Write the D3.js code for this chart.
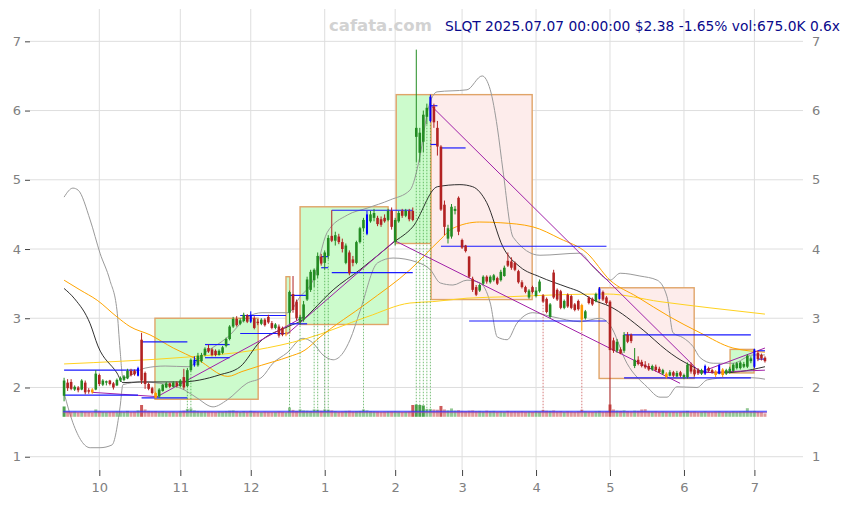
<!DOCTYPE html>
<html><head><meta charset="utf-8">
<script src="https://cdn.jsdelivr.net/npm/d3@7/dist/d3.min.js"></script>
<style>body{margin:0;background:#fff}svg{display:block}text{font-family:"DejaVu Sans",sans-serif}</style>
</head><body><svg id="c" width="850" height="505"></svg>
<script>
// ---------- DATA ----------
const tradingDays = {
  "2024-09":[17,18,19,20,23,24,25,26,27,30],
  "2024-10":[1,2,3,4,7,8,9,10,11,14,15,16,17,18,21,22,23,24,25,28,29,30,31],
  "2024-11":[1,4,5,6,7,8,11,12,13,14,15,18,19,20,21,22,25,26,27,29],
  "2024-12":[2,3,4,5,6,9,10,11,12,13,16,17,18,19,20,23,24,26,27,30,31],
  "2025-01":[2,3,6,7,8,10,13,14,15,16,17,21,22,23,24,27,28,29,30,31],
  "2025-02":[3,4,5,6,7,10,11,12,13,14,18,19,20,21,24,25,26,27,28],
  "2025-03":[3,4,5,6,7,10,11,12,13,14,17,18,19,20,21,24,25,26,27,28,31],
  "2025-04":[1,2,3,4,7,8,9,10,11,14,15,16,17,21,22,23,24,25,28,29,30],
  "2025-05":[1,2,5,6,7,8,9,12,13,14,15,16,19,20,21,22,23,27,28,29,30],
  "2025-06":[2,3,4,5,6,9,10,11,12,13,16,17,18,20,23,24,25,26,27,30],
  "2025-07":[1,2,3,7]
};
const monthLabels = ["10","11","12","1","2","3","4","5","6","7"];
const yTicks = [1,2,3,4,5,6,7];

const open = [1.88,2.07,2.08,1.97,2.00,1.97,2.07,1.96,1.97,1.97,
2.18,2.04,2.07,2.10,2.06,2.03,2.10,2.11,2.13,2.24,
2.24,2.17,2.69,2.21,2.05,1.99,1.92,1.87,1.95,2.00,
2.06,2.01,2.07,2.02,2.15,2.02,2.25,2.32,2.32,2.38,
2.47,2.57,2.55,2.53,2.47,2.50,2.60,2.70,2.88,2.99,
2.92,2.96,3.04,2.95,3.00,2.95,2.92,2.98,3.02,2.93,
2.86,2.88,2.86,2.77,3.08,3.35,3.24,2.95,2.98,3.27,
3.41,3.55,3.62,3.89,3.80,3.90,4.19,4.12,4.18,4.10,
3.80,3.95,3.85,3.80,4.10,4.30,4.22,4.40,4.45,4.45,
4.43,4.45,4.42,4.55,4.10,4.40,4.55,4.48,4.55,4.55,
5.62,5.39,5.55,5.91,5.85,6.06,5.75,5.48,4.64,4.15,
4.18,4.55,4.74,4.13,4.05,3.89,3.57,3.45,3.40,3.50,
3.60,3.52,3.55,3.58,3.55,3.61,3.83,3.82,3.80,3.68,
3.52,3.45,3.30,3.45,3.32,3.39,3.33,3.28,3.02,3.66,
3.41,3.39,3.15,3.34,3.32,3.20,3.25,3.19,3.00,3.30,
3.28,3.25,3.28,3.38,3.30,3.24,2.68,2.53,2.55,2.53,
2.76,2.76,2.31,2.40,2.37,2.33,2.31,2.26,2.30,2.27,
2.20,2.20,2.17,2.22,2.16,2.22,2.15,2.15,2.33,2.26,
2.25,2.20,2.20,2.28,2.25,2.23,2.20,2.26,2.20,2.22,
2.24,2.28,2.28,2.30,2.30,2.38,2.30,2.50,2.47,2.43];
const high = [2.14,2.12,2.12,2.03,2.02,2.12,2.10,1.99,1.99,2.25,
2.20,2.12,2.10,2.11,2.08,2.13,2.16,2.18,2.27,2.27,
2.26,2.30,2.79,2.23,2.07,2.01,1.94,1.99,2.05,2.08,
2.07,2.09,2.09,2.12,2.27,2.28,2.42,2.45,2.50,2.50,
2.58,2.62,2.57,2.55,2.55,2.60,2.72,2.90,3.02,3.03,
3.00,3.08,3.06,3.10,3.03,2.99,3.00,3.00,3.05,2.96,
2.93,2.91,2.88,2.80,3.40,3.61,3.27,3.05,3.25,3.60,
3.70,3.72,3.95,3.93,3.98,4.20,4.56,4.25,4.22,4.15,
4.08,3.98,3.90,4.12,4.32,4.45,4.55,4.55,4.58,4.48,
4.47,4.50,4.58,4.60,4.45,4.55,4.58,4.58,4.58,4.60,
6.88,5.75,6.00,6.10,6.23,6.10,5.85,5.50,4.70,4.35,
4.65,4.62,4.76,4.15,4.06,3.90,3.60,3.48,3.50,3.62,
3.62,3.62,3.64,3.60,3.70,3.76,3.95,3.88,3.82,3.70,
3.55,3.47,3.42,3.47,3.45,3.56,3.35,3.30,3.22,3.70,
3.43,3.41,3.27,3.36,3.34,3.22,3.27,3.21,3.12,3.32,
3.30,3.37,3.45,3.40,3.32,3.26,2.72,2.70,2.58,2.80,
2.80,2.78,2.57,2.45,2.40,2.38,2.35,2.33,2.33,2.30,
2.27,2.22,2.25,2.24,2.24,2.24,2.20,2.36,2.36,2.28,
2.28,2.27,2.33,2.30,2.27,2.25,2.34,2.28,2.27,2.30,
2.35,2.37,2.38,2.37,2.48,2.45,2.56,2.53,2.49,2.45];
const low = [1.80,1.95,1.96,1.95,1.93,1.96,1.90,1.91,1.91,1.96,
2.02,2.02,2.03,2.03,1.97,2.02,2.08,2.09,2.12,2.16,
2.17,2.16,2.05,1.98,1.96,1.90,1.84,1.85,1.94,1.99,
1.99,2.00,2.00,2.00,1.97,2.00,2.22,2.30,2.30,2.36,
2.45,2.50,2.45,2.45,2.46,2.48,2.58,2.68,2.86,2.88,
2.90,2.94,2.93,2.93,2.84,2.90,2.90,2.88,2.92,2.84,
2.84,2.72,2.74,2.74,2.92,3.08,2.97,2.90,2.95,3.25,
3.38,3.45,3.58,3.76,3.70,3.85,4.10,4.05,4.07,3.95,
3.78,3.62,3.75,3.78,4.08,4.25,4.20,4.38,4.40,4.33,
4.32,4.38,4.40,4.28,4.05,4.38,4.45,4.46,4.40,4.40,
5.25,5.25,5.40,5.80,5.83,5.75,5.35,4.55,4.20,4.08,
4.15,4.50,4.20,4.00,3.95,3.58,3.38,3.32,3.38,3.48,
3.50,3.50,3.53,3.48,3.53,3.60,3.74,3.70,3.68,3.50,
3.43,3.36,3.28,3.36,3.30,3.37,3.22,3.07,3.00,3.28,
3.25,3.13,3.13,3.15,3.13,3.10,3.11,2.82,2.98,3.20,
3.18,3.23,3.27,3.25,3.20,1.63,2.50,2.50,2.48,2.50,
2.64,2.64,2.28,2.32,2.29,2.27,2.24,2.24,2.23,2.21,
2.18,2.13,2.16,2.15,2.15,2.15,2.12,2.13,2.20,2.16,
2.18,2.18,2.18,2.22,2.20,2.15,2.19,2.15,2.18,2.20,
2.22,2.26,2.26,2.28,2.28,2.35,2.28,2.38,2.39,2.36];
const close = [2.10,1.99,1.98,2.01,1.96,2.10,1.93,1.94,1.93,2.20,
2.05,2.10,2.09,2.05,2.00,2.11,2.14,2.16,2.24,2.18,
2.19,2.28,2.10,2.05,1.98,1.92,1.85,1.97,2.04,2.06,
2.01,2.07,2.02,2.10,2.00,2.25,2.40,2.40,2.46,2.47,
2.56,2.52,2.47,2.47,2.53,2.58,2.70,2.88,2.99,2.90,
2.97,3.05,2.95,3.05,2.86,2.93,2.98,2.90,2.94,2.86,
2.91,2.75,2.76,2.78,3.38,3.12,3.00,3.02,3.20,3.56,
3.67,3.70,3.90,3.79,3.95,4.16,4.12,4.20,4.10,4.00,
4.05,3.65,3.80,4.10,4.30,4.42,4.50,4.50,4.52,4.36,
4.35,4.40,4.55,4.32,4.42,4.52,4.48,4.55,4.43,4.42,
5.75,5.68,5.94,6.04,6.20,5.83,5.48,4.57,4.32,4.30,
4.61,4.58,4.25,4.02,3.97,3.60,3.41,3.34,3.48,3.60,
3.53,3.60,3.62,3.50,3.67,3.73,3.76,3.73,3.70,3.52,
3.45,3.38,3.40,3.38,3.40,3.53,3.24,3.09,3.20,3.30,
3.27,3.15,3.25,3.17,3.15,3.12,3.13,2.98,3.10,3.22,
3.20,3.35,3.43,3.27,3.22,2.54,2.53,2.66,2.49,2.76,
2.66,2.67,2.40,2.34,2.31,2.29,2.26,2.31,2.25,2.22,
2.25,2.15,2.22,2.17,2.21,2.17,2.18,2.33,2.23,2.19,
2.21,2.25,2.31,2.24,2.22,2.18,2.32,2.18,2.25,2.27,
2.33,2.35,2.36,2.34,2.46,2.42,2.55,2.41,2.42,2.38];
const volume = [2100,1150,1000,1050,900,1100,1000,950,850,1500,
1100,1000,950,1000,1050,1100,1050,1000,1200,1000,
1050,1300,2400,1500,1200,1100,1150,1050,1100,1000,
1000,1050,950,1100,1250,1600,1700,1300,1200,1100,
1150,1100,1050,1000,1100,1050,1150,1250,1300,1100,
1000,1150,1050,1200,1100,1000,950,1050,1000,950,
1000,1100,1000,900,1900,1400,1200,1500,1300,1250,
1200,1500,1450,1250,1500,1450,1300,1150,1050,1100,
1200,1250,1100,1150,1200,1500,1300,1150,1100,1050,
1000,1050,1100,1100,1150,1100,1000,1050,1100,2400,
2500,2400,2300,1600,1600,1500,1450,2200,1500,1300,
1700,1250,1350,1200,1150,1250,1300,1150,1200,1100,
1250,1150,1200,1050,1100,1050,1200,1100,1150,1100,
1150,1050,1100,1000,1150,1100,1400,1250,1200,1300,
1100,1150,1000,1100,1050,1000,1100,1450,1100,1050,
1000,1100,1200,1050,1100,2500,1500,1250,1200,1300,
1150,1100,1250,1200,1500,1550,1100,1050,1100,1000,
1050,1000,950,1000,950,1000,1050,1200,1000,1050,
950,1000,1100,1000,950,1050,1100,1000,1050,1000,
1100,1050,1100,1150,1750,1100,1200,1050,950,675];
const avgVolume = 1125;
const avgVolumeLong = 850;

const orangeBars = [8,26,63,147,171,185,187];
const blueBars = [21,37,53,86,104,152,182,186,196];
const volSpikeUp = [35,36,64,67,71,72,74,75,85,100,101,102,103,104];
const volSpikeDown = [136,147];

// moving averages / bands: [bar index, price]
const maShort = [[0,3.43],[3,3.28],[7.4,2.92],[9.6,2.60],[15,2.21],[16.7,2.07],[21.5,2.08],[33,2.08],[44,2.18],[50,2.30],[55.6,2.66],[63.6,2.88],[68.4,3.0],[70.7,3.12],[76.4,3.41],[84,3.70],[93.4,4.09],[99,4.32],[106,4.90],[112.4,4.93],[116,4.90],[120,4.67],[124.6,4.03],[129.5,3.74],[135,3.60],[142.8,3.45],[146.5,3.38],[150,3.27],[155,3.17],[164.4,2.83],[171,2.54],[174,2.43],[178.6,2.30],[181.4,2.23],[186,2.21],[192,2.23],[199,2.30]];
const maMid = [[0,3.55],[4.5,3.41],[9.4,3.26],[15,3.02],[18.7,2.88],[24.4,2.76],[31,2.57],[38,2.40],[46.5,2.16],[50.5,2.23],[56,2.32],[63.6,2.44],[68.4,2.54],[72.7,2.73],[86,3.22],[98.2,3.70],[106.7,4.13],[110.4,4.30],[118,4.39],[123.8,4.38],[133.1,4.32],[140.8,4.15],[148.5,3.94],[155,3.55],[162.7,3.31],[172,3.02],[180.6,2.79],[189.9,2.57],[199,2.51]];
const maLong = [[0,2.34],[16.5,2.38],[35.2,2.44],[54.2,2.54],[68.4,2.70],[86,3.02],[98.2,3.22],[104.7,3.24],[114.4,3.29],[125.8,3.31],[140.8,3.34],[154.2,3.35],[169.2,3.24],[183.4,3.15],[199,3.06]];
const bandUpper = [[0,4.75],[2.5,4.88],[4,4.85],[7.4,4.42],[10.2,3.94],[13,3.55],[15,3.12],[15.9,2.54],[16.7,2.14],[23,2.28],[28.7,2.31],[35.2,2.30],[40,2.50],[46.5,2.73],[52.2,3.02],[56.2,3.08],[63.6,3.08],[67,3.31],[70.7,3.55],[74.7,4.24],[80.4,4.49],[86,4.59],[92.6,4.71],[98.2,4.85],[101,5.33],[103.3,6.01],[105.9,6.27],[114.4,6.30],[118.7,6.50],[121,6.30],[123,5.76],[124.6,5.14],[127.5,4.17],[135.1,3.91],[146.5,3.94],[150.2,3.74],[155,3.55],[157.9,3.65],[163.5,3.61],[168.4,3.55],[171.2,3.31],[172.9,2.79],[175.7,2.72],[178.6,2.59],[180.6,2.43],[184.3,2.35],[189.9,2.35],[195.6,2.47],[199,2.47]];
const bandLower = [[0,1.92],[2.5,1.49],[7.4,1.13],[10.2,1.13],[13.6,1.17],[15.9,1.72],[16.7,2.04],[22.1,2.08],[27.2,2.06],[34.3,1.96],[37.7,1.85],[42.3,1.72],[46.3,1.82],[51.9,2.06],[56.2,2.15],[59.3,2.35],[63.3,2.50],[67.8,2.71],[70.5,2.65],[73.5,2.47],[76.4,2.40],[79.2,2.50],[81.2,2.69],[84,3.10],[89,3.80],[93.4,3.87],[100.2,3.81],[104,3.70],[106.8,3.51],[110.4,3.48],[114.4,3.55],[118.1,3.51],[121,3.22],[123,2.73],[125.8,2.69],[128.6,2.93],[133.1,3.08],[138.8,3.02],[146.5,2.95],[152.2,3.0],[155,2.90],[159.8,2.35],[165.5,2.01],[169.2,1.86],[171.2,1.86],[174,2.01],[179.7,2.0],[182.6,2.11],[188.3,2.14],[195.6,2.14],[199,2.12]];

// support / resistance segments
const levelStart = [0,0,22,22,40,40,50,50,64,64,76,76,104,104,107,107,115,159,159,197,197,37,73,73];
const levelEnd   = [21,21,35,35,47,47,63,63,69,69,99,99,106,106,114,154,154,195,195,199,199,38,75,75];
const levelPrice = [2.25,1.89,2.66,1.85,2.62,2.43,3.04,2.78,3.33,2.92,4.56,3.66,6.07,5.51,5.46,4.04,2.96,2.76,2.14,2.53,2.41,2.39,3.89,3.73];

// trend lines
const trendFromIdx = [7.9,25.8,63.3,93.9,104.4,180.6,179.7];
const trendFromVal = [1.93,1.85,2.77,4.12,6.06,2.22,2.21];
const trendToIdx   = [25.8,68.4,93.9,174.9,180.6,199,199];
const trendToVal   = [1.87,3.03,4.12,2.06,2.22,2.57,2.25];

// boxes
const boxFrom = [25.8,63,67,94.3,104.2,151.9,189.1];
const boxTo   = [55.1,64.1,92,104.2,132.9,178.9,195.9];
const boxLow  = [1.83,2.79,2.91,4.08,3.27,2.13,2.21];
const boxHigh = [3.00,3.60,4.61,6.23,6.23,3.44,2.55];
const boxTrend = ["up","up","up","up","down","down","up"];

const titleText = "SLQT 2025.07.07 00:00:00 $2.38 -1.65% vol:675.0K 0.6x";
const watermark = "cafata.com";

// ---------- BUILD ----------
const dates = [];
Object.entries(tradingDays).forEach(([m, days]) => days.forEach(d => dates.push(m + "-" + String(d).padStart(2,"0"))));
const monthStart = [];
dates.forEach((d,i) => { if (i>0 && d.slice(0,7)!==dates[i-1].slice(0,7)) monthStart.push(i); });

const svg = d3.select("#c");
const L=30,R=803,T=9,B=470;
const x = d3.scaleLinear().domain([-9.68, 209.8]).range([L, R]);
const y = d3.scaleLinear().domain([0.808, 7.467]).range([B, T]);
const yVol = d3.scaleLinear().domain([0, 2500]).range([416.8, 404.5]);

// grid
svg.append("g").selectAll("line").data(yTicks).join("line")
  .attr("x1",L).attr("x2",R).attr("y1",d=>y(d)).attr("y2",d=>y(d))
  .attr("stroke","#dedede").attr("stroke-width",1);
svg.append("g").selectAll("line").data(monthStart).join("line")
  .attr("x1",d=>x(d)).attr("x2",d=>x(d)).attr("y1",T).attr("y2",B)
  .attr("stroke","#dedede").attr("stroke-width",1);

// axes
const axL = svg.append("g").attr("transform",`translate(${L},0)`)
  .call(d3.axisLeft(y).tickValues(yTicks).tickFormat(d3.format("d")).tickSize(5).tickPadding(4));
const axR = svg.append("g").attr("transform",`translate(${R},0)`)
  .call(d3.axisRight(y).tickValues(yTicks).tickFormat(d3.format("d")).tickSize(0).tickPadding(9));
const axB = svg.append("g").attr("transform",`translate(0,${B})`)
  .call(d3.axisBottom(x).tickValues(monthStart).tickFormat((d,i)=>monthLabels[i]).tickSize(6).tickPadding(7));
[axL,axR,axB].forEach(a=>{
  a.select(".domain").remove();
  a.selectAll("line").attr("stroke","#444");
  a.selectAll("text").attr("fill","#808080").style("font-size","13px").style("font-family","DejaVu Sans");
});

// boxes
const boxIdx = d3.range(boxFrom.length);
svg.append("g").selectAll("rect").data(boxIdx).join("rect")
  .attr("x",i=>x(boxFrom[i])).attr("width",i=>x(boxTo[i])-x(boxFrom[i]))
  .attr("y",i=>y(boxHigh[i])).attr("height",i=>y(boxLow[i])-y(boxHigh[i]))
  .attr("fill",i=>boxTrend[i]==="up"?"#ccfbcc":"#fdeceb")
  .attr("stroke","#e0a468").attr("stroke-width",1.4);

// lines
const line = d3.line().x(d=>x(d[0])).y(d=>y(d[1])).curve(d3.curveMonotoneX);
const drawLine=(pts,color,w)=>svg.append("path").attr("d",line(pts)).attr("fill","none").attr("stroke",color).attr("stroke-width",w);
drawLine(bandUpper,"#9a9a9a",1);
drawLine(bandLower,"#9a9a9a",1);
drawLine(maLong,"#ffd21f",1);
drawLine(maMid,"#ffa500",1);
drawLine(maShort,"#1a1a1a",0.9);

// trend lines
svg.append("g").selectAll("line").data(d3.range(trendFromIdx.length)).join("line")
  .attr("x1",i=>x(trendFromIdx[i])).attr("y1",i=>y(trendFromVal[i]))
  .attr("x2",i=>x(trendToIdx[i])).attr("y2",i=>y(trendToVal[i]))
  .attr("stroke","#a020a8").attr("stroke-width",1);

// levels
svg.append("g").selectAll("line").data(d3.range(levelPrice.length)).join("line")
  .attr("x1",i=>x(levelStart[i])).attr("x2",i=>x(levelEnd[i]))
  .attr("y1",i=>y(levelPrice[i])).attr("y2",i=>y(levelPrice[i]))
  .attr("stroke","#1a1aff").attr("stroke-width",1.2);

// volume
const bw = (x(1)-x(0))*0.85;
svg.append("g").selectAll("rect").data(d3.range(volume.length)).join("rect")
  .attr("x",i=>x(i)-bw/2).attr("width",bw)
  .attr("y",i=>yVol(volume[i])).attr("height",i=>yVol(0)-yVol(volume[i]))
  .attr("fill",i=>close[i]>=open[i]?"#3c9a3c":"#c84848")
  .attr("opacity",i=>volume[i]>=2000?0.9:0.55);
svg.append("line").attr("x1",x(0)-1).attr("x2",x(199)+2).attr("y1",yVol(avgVolume)).attr("y2",yVol(avgVolume))
  .attr("stroke","#3030ff").attr("stroke-width",1);
svg.append("line").attr("x1",x(0)-1).attr("x2",x(199)+2).attr("y1",yVol(avgVolumeLong)).attr("y2",yVol(avgVolumeLong))
  .attr("stroke","#9040b0").attr("stroke-width",0.8);

// volume spike markers
const markers = volSpikeUp.map(i=>({i,c:"#2a9a2a"})).concat(volSpikeDown.map(i=>({i,c:"#c03030"})));
svg.append("g").selectAll("line").data(markers).join("line")
  .attr("x1",d=>x(d.i)).attr("x2",d=>x(d.i))
  .attr("y1",yVol(avgVolume)).attr("y2",d=>y(low[d.i]))
  .attr("stroke",d=>d.c).attr("stroke-width",0.8).attr("stroke-dasharray","1.5,1.5").attr("opacity",0.8);

// candles
const cw = 2.6;
const colorOf = i => orangeBars.includes(i)?"#ff9900":blueBars.includes(i)?"#0000ff":(close[i]>=open[i]?"#228b22":"#b22222");
const cg = svg.append("g");
cg.selectAll("line").data(d3.range(close.length)).join("line")
  .attr("x1",i=>x(i)).attr("x2",i=>x(i)).attr("y1",i=>y(high[i])).attr("y2",i=>y(low[i]))
  .attr("stroke",colorOf).attr("stroke-width",1);
cg.selectAll("rect").data(d3.range(close.length)).join("rect")
  .attr("x",i=>x(i)-(blueBars.includes(i)?1:cw/2)).attr("width",i=>blueBars.includes(i)?2:cw)
  .attr("y",i=>y(Math.max(open[i],close[i])))
  .attr("height",i=>Math.max(1,Math.abs(y(open[i])-y(close[i]))))
  .attr("fill",colorOf);

// texts
svg.append("text").attr("x",329).attr("y",31).text(watermark)
  .attr("fill","#d2d2d2").style("font-size","16.5px").style("font-weight","bold");
svg.append("text").attr("x",840).attr("y",31).attr("text-anchor","end").text(titleText)
  .attr("fill","#0a0a8c").style("font-size","13.8px");
</script></body></html>
